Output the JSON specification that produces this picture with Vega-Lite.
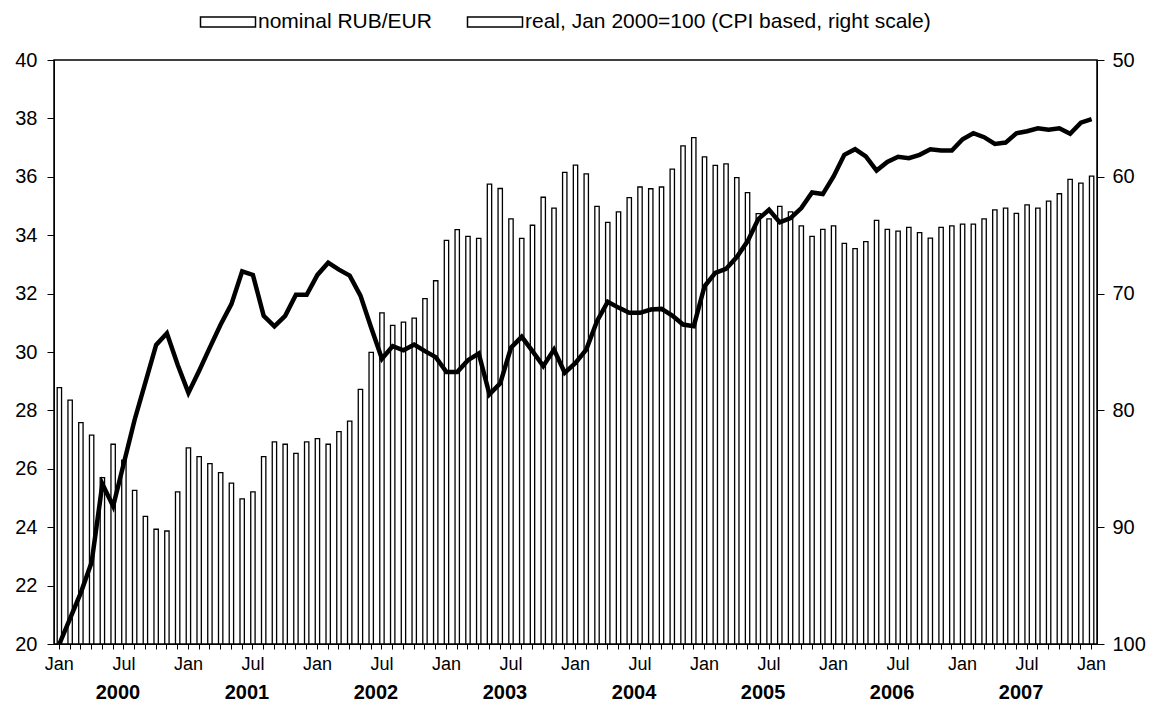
{
  "$schema": "https://vega.github.io/schema/vega-lite/v6.json",
  "width": 1043,
  "height": 584,
  "padding": {"left": 14, "top": 10, "right": 12, "bottom": 5},
  "config": {
    "view": {"stroke": "black", "strokeWidth": 1.5},
    "axis": {"domainColor": "black", "tickColor": "black", "labelColor": "black", "grid": false}
  },
  "datasets": {
    "years": [
      {"month": "2000-07", "year": "2000"},
      {"month": "2001-07", "year": "2001"},
      {"month": "2002-07", "year": "2002"},
      {"month": "2003-07", "year": "2003"},
      {"month": "2004-07", "year": "2004"},
      {"month": "2005-07", "year": "2005"},
      {"month": "2006-07", "year": "2006"},
      {"month": "2007-07", "year": "2007"}
    ],
    "rates": [
    {"month": "2000-01", "nominal": 28.78, "real": 100},
    {"month": "2000-02", "nominal": 28.35, "real": 97.8},
    {"month": "2000-03", "nominal": 27.58, "real": 95.6},
    {"month": "2000-04", "nominal": 27.15, "real": 93.0},
    {"month": "2000-05", "nominal": 25.70, "real": 86.3},
    {"month": "2000-06", "nominal": 26.84, "real": 88.2},
    {"month": "2000-07", "nominal": 26.30, "real": 84.5},
    {"month": "2000-08", "nominal": 25.26, "real": 80.8},
    {"month": "2000-09", "nominal": 24.37, "real": 77.6},
    {"month": "2000-10", "nominal": 23.93, "real": 74.4},
    {"month": "2000-11", "nominal": 23.87, "real": 73.4},
    {"month": "2000-12", "nominal": 25.21, "real": 76.1},
    {"month": "2001-01", "nominal": 26.72, "real": 78.5},
    {"month": "2001-02", "nominal": 26.42, "real": 76.6},
    {"month": "2001-03", "nominal": 26.18, "real": 74.6},
    {"month": "2001-04", "nominal": 25.87, "real": 72.65},
    {"month": "2001-05", "nominal": 25.51, "real": 70.9},
    {"month": "2001-06", "nominal": 24.97, "real": 68.1},
    {"month": "2001-07", "nominal": 25.21, "real": 68.4},
    {"month": "2001-08", "nominal": 26.42, "real": 71.9},
    {"month": "2001-09", "nominal": 26.92, "real": 72.8},
    {"month": "2001-10", "nominal": 26.84, "real": 71.9},
    {"month": "2001-11", "nominal": 26.53, "real": 70.1},
    {"month": "2001-12", "nominal": 26.92, "real": 70.1},
    {"month": "2002-01", "nominal": 27.03, "real": 68.4},
    {"month": "2002-02", "nominal": 26.84, "real": 67.35},
    {"month": "2002-03", "nominal": 27.27, "real": 67.95},
    {"month": "2002-04", "nominal": 27.63, "real": 68.46},
    {"month": "2002-05", "nominal": 28.72, "real": 70.17},
    {"month": "2002-06", "nominal": 29.99, "real": 72.93},
    {"month": "2002-07", "nominal": 31.34, "real": 75.58},
    {"month": "2002-08", "nominal": 30.91, "real": 74.5},
    {"month": "2002-09", "nominal": 31.02, "real": 74.85},
    {"month": "2002-10", "nominal": 31.16, "real": 74.36},
    {"month": "2002-11", "nominal": 31.83, "real": 74.93},
    {"month": "2002-12", "nominal": 32.44, "real": 75.44},
    {"month": "2003-01", "nominal": 33.82, "real": 76.72},
    {"month": "2003-02", "nominal": 34.19, "real": 76.72},
    {"month": "2003-03", "nominal": 33.96, "real": 75.7},
    {"month": "2003-04", "nominal": 33.89, "real": 75.13},
    {"month": "2003-05", "nominal": 35.75, "real": 78.63},
    {"month": "2003-06", "nominal": 35.6, "real": 77.69},
    {"month": "2003-07", "nominal": 34.56, "real": 74.64},
    {"month": "2003-08", "nominal": 33.89, "real": 73.7},
    {"month": "2003-09", "nominal": 34.34, "real": 74.93},
    {"month": "2003-10", "nominal": 35.3, "real": 76.21},
    {"month": "2003-11", "nominal": 34.93, "real": 74.79},
    {"month": "2003-12", "nominal": 36.15, "real": 76.78},
    {"month": "2004-01", "nominal": 36.4, "real": 75.93},
    {"month": "2004-02", "nominal": 36.1, "real": 74.79},
    {"month": "2004-03", "nominal": 34.99, "real": 72.37},
    {"month": "2004-04", "nominal": 34.44, "real": 70.7},
    {"month": "2004-05", "nominal": 34.80, "real": 71.2},
    {"month": "2004-06", "nominal": 35.29, "real": 71.65},
    {"month": "2004-07", "nominal": 35.65, "real": 71.65},
    {"month": "2004-08", "nominal": 35.59, "real": 71.37},
    {"month": "2004-09", "nominal": 35.65, "real": 71.31},
    {"month": "2004-10", "nominal": 36.26, "real": 71.88},
    {"month": "2004-11", "nominal": 37.06, "real": 72.65},
    {"month": "2004-12", "nominal": 37.34, "real": 72.79},
    {"month": "2005-01", "nominal": 36.68, "real": 69.37},
    {"month": "2005-02", "nominal": 36.39, "real": 68.23},
    {"month": "2005-03", "nominal": 36.44, "real": 67.89},
    {"month": "2005-04", "nominal": 35.97, "real": 66.87},
    {"month": "2005-05", "nominal": 35.46, "real": 65.53},
    {"month": "2005-06", "nominal": 34.74, "real": 63.62},
    {"month": "2005-07", "nominal": 34.56, "real": 62.82},
    {"month": "2005-08", "nominal": 34.99, "real": 63.9},
    {"month": "2005-09", "nominal": 34.80, "real": 63.53},
    {"month": "2005-10", "nominal": 34.32, "real": 62.68},
    {"month": "2005-11", "nominal": 33.96, "real": 61.34},
    {"month": "2005-12", "nominal": 34.20, "real": 61.48},
    {"month": "2006-01", "nominal": 34.32, "real": 59.97},
    {"month": "2006-02", "nominal": 33.72, "real": 58.12},
    {"month": "2006-03", "nominal": 33.54, "real": 57.64},
    {"month": "2006-04", "nominal": 33.78, "real": 58.26},
    {"month": "2006-05", "nominal": 34.51, "real": 59.47},
    {"month": "2006-06", "nominal": 34.20, "real": 58.73},
    {"month": "2006-07", "nominal": 34.14, "real": 58.29},
    {"month": "2006-08", "nominal": 34.27, "real": 58.4},
    {"month": "2006-09", "nominal": 34.09, "real": 58.12},
    {"month": "2006-10", "nominal": 33.90, "real": 57.64},
    {"month": "2006-11", "nominal": 34.27, "real": 57.75},
    {"month": "2006-12", "nominal": 34.32, "real": 57.75},
    {"month": "2007-01", "nominal": 34.38, "real": 56.78},
    {"month": "2007-02", "nominal": 34.38, "real": 56.27},
    {"month": "2007-03", "nominal": 34.56, "real": 56.61},
    {"month": "2007-04", "nominal": 34.87, "real": 57.18},
    {"month": "2007-05", "nominal": 34.93, "real": 57.07},
    {"month": "2007-06", "nominal": 34.75, "real": 56.27},
    {"month": "2007-07", "nominal": 35.04, "real": 56.1},
    {"month": "2007-08", "nominal": 34.93, "real": 55.84},
    {"month": "2007-09", "nominal": 35.17, "real": 55.98},
    {"month": "2007-10", "nominal": 35.42, "real": 55.84},
    {"month": "2007-11", "nominal": 35.91, "real": 56.32},
    {"month": "2007-12", "nominal": 35.78, "real": 55.36},
    {"month": "2008-01", "nominal": 36.02, "real": 55.07}
  ]},
  "data": {"name": "rates"},
  "encoding": {
    "x": {
      "field": "month", "type": "ordinal",
      "axis": {
        "title": null, "labelAngle": 0, "labelOverlap": false, "labelFontSize": 18, "tickSize": 5, "labelPadding": 6,
        "labelExpr": "slice(datum.value,5)=='01' ? 'Jan' : (slice(datum.value,5)=='07' ? 'Jul' : '')"
      }
    }
  },
  "layer": [
    {
      "mark": {"type": "bar", "fill": "white", "strokeWidth": 1.3, "width": {"band": 0.45}},
      "encoding": {
        "y": {
          "field": "nominal", "type": "quantitative",
          "scale": {"domain": [20, 40], "zero": false, "nice": false},
          "axis": {"title": null, "values": [20,22,24,26,28,30,32,34,36,38,40], "labelFontSize": 20, "tickSize": 7, "labelPadding": 10}
        },
        "y2": {"datum": 20},
        "stroke": {
          "datum": "nominal RUB/EUR",
          "scale": {"domain": ["nominal RUB/EUR", "real, Jan 2000=100 (CPI based, right scale)"], "range": ["black", "black"]},
          "legend": {
            "title": null, "orient": "none", "legendX": 162, "legendY": -50, "direction": "horizontal",
            "padding": 0, "symbolSize": 484, "labelOffset": 18, "columnPadding": 32, "labelLimit": 1000,
            "labelFontSize": 21, "labelColor": "black", "symbolStrokeColor": "black",
            "symbolType": "M-2.5,-0.45L2.5,-0.45L2.5,0.45L-2.5,0.45Z",
            "encode": {
              "symbols": {
                "update": {
                  "shape": {"signal": "datum.value == 'nominal RUB/EUR' ? 'M-2.5,-0.45L2.5,-0.45L2.5,0.45L-2.5,0.45Z' : 'M-2.5,0L2.5,0'"},
                  "fill": {"signal": "datum.value == 'nominal RUB/EUR' ? 'white' : 'transparent'"},
                  "strokeWidth": {"signal": "datum.value == 'nominal RUB/EUR' ? 1.3 : 5"},
                  "stroke": {"value": "black"}
                }
              }
            }
          }
        }
      }
    },
    {
      "layer": [
        {
          "mark": {"type": "line", "strokeWidth": 4.5},
          "encoding": {
            "y": {
              "field": "real", "type": "quantitative",
              "scale": {"domain": [50, 100], "reverse": true, "zero": false, "nice": false},
              "axis": {"title": null, "orient": "right", "values": [50,60,70,80,90,100], "labelFontSize": 20, "tickSize": 7, "labelPadding": 8}
            },
            "stroke": {"datum": "real, Jan 2000=100 (CPI based, right scale)"}
          }
        },
        {
          "data": {"name": "years"},
          "mark": {"type": "text", "fontSize": 20, "fontWeight": "bold", "color": "black", "dx": -6, "baseline": "middle"},
          "encoding": {
            "y": {"datum": 104.2},
            "text": {"field": "year"}
          }
        }
      ]
    }
  ],
  "resolve": {"scale": {"y": "independent"}}
}
